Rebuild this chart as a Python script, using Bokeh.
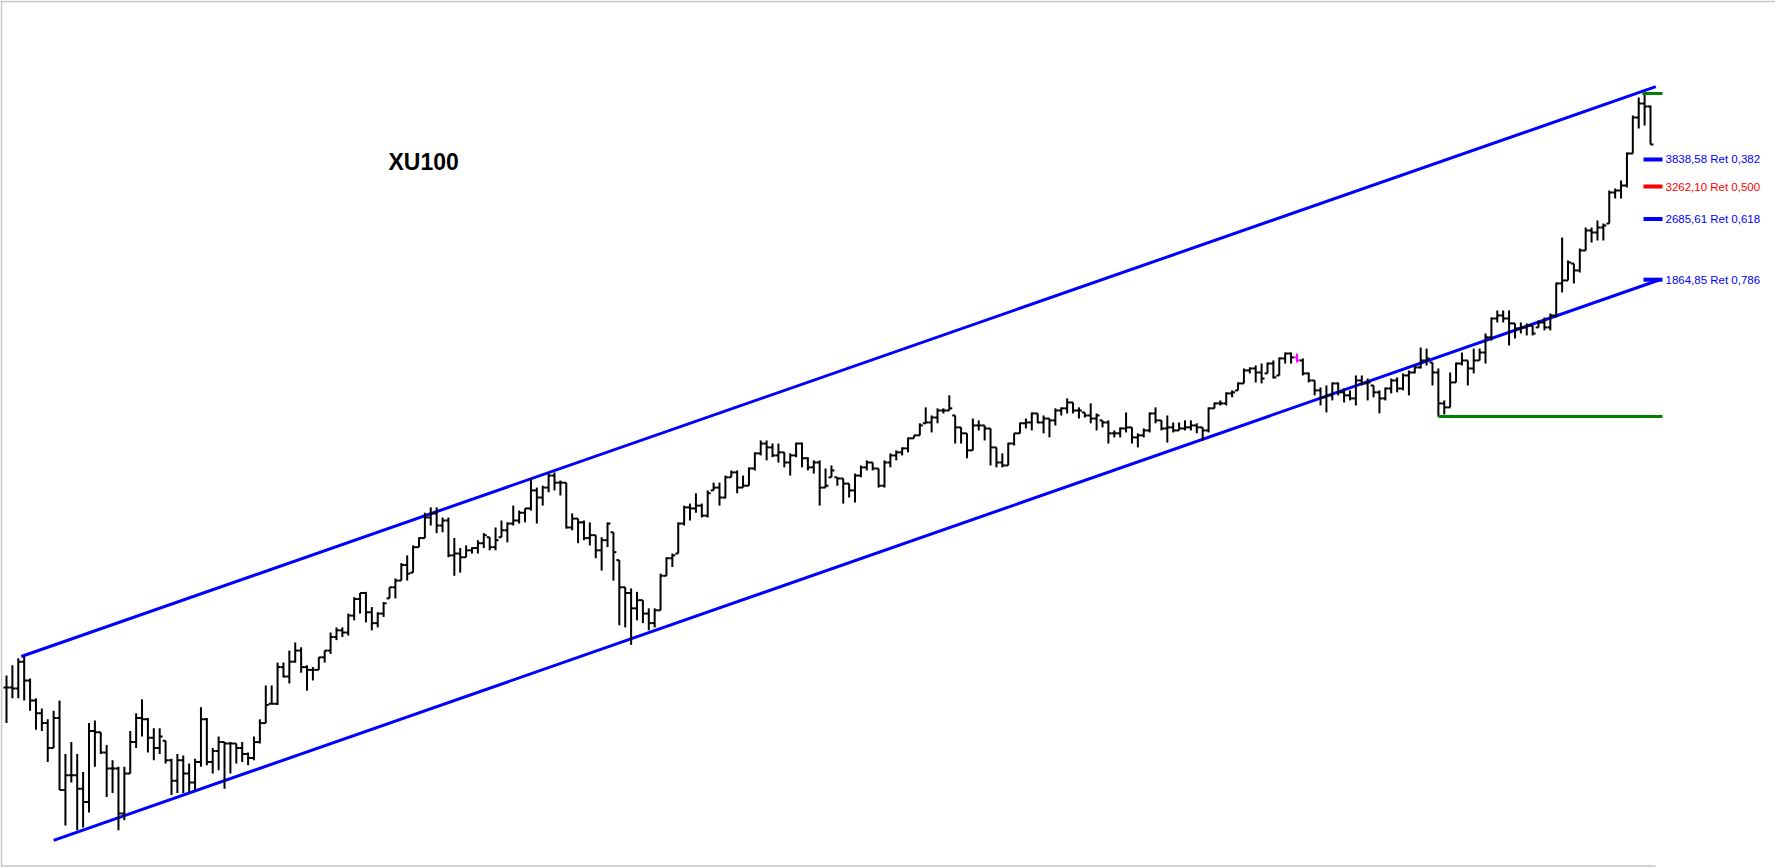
import math
from bokeh.plotting import figure
from bokeh.models import Range1d, ColumnDataSource, Span, Label
from bokeh.embed import file_html
from bokeh.resources import INLINE

# ---------------- data (weekly OHLC, XU100) ----------------
highs = [
    173, 184, 192, 194, 170, 151, 142, 133, 140, 149,
    108, 116, 108, 97, 130, 132, 123, 114, 104, 100,
    100, 124, 138, 150, 134, 126, 126, 117, 105, 108,
    107, 102, 105, 143, 134, 112, 120, 116, 116, 115,
    116, 109, 120, 133, 163, 163, 187, 187, 201, 211,
    205, 184, 182, 193, 201, 224, 231, 231, 251, 277,
    284, 286, 261, 253, 269, 294, 310, 340, 356, 378,
    397, 460, 475, 475, 447, 447, 395, 372, 378, 374,
    390, 407, 397, 421, 439, 434, 480, 466, 472, 565,
    535, 541, 582, 586, 558, 551, 458, 444, 439, 434,
    402, 397,
    434, 409, 346, 294, 292, 286, 272, 259, 259, 319, 352, 360, 434, 480, 486, 517,
    486, 526, 551, 551, 575, 593, 593, 575, 604, 661, 710, 710, 697, 697, 661, 657,
    701, 701, 642, 630, 630, 600, 611, 569, 565, 548, 582, 611, 630, 622, 600, 630,
    657, 669, 681, 723, 732, 787, 866, 825, 861, 861, 931,
    825, 768, 741, 810, 801, 777, 763, 681, 657, 701, 741, 791, 810, 840, 835, 825,
    810, 861, 866, 914, 892, 866, 840, 887, 835, 801, 801, 754, 768, 840, 768, 741,
    763, 840, 866, 801, 825, 791, 791, 801, 801, 787, 768, 866, 892, 903, 948, 959,
    1006, 1094, 1101, 1114, 1127, 1134, 1148, 1169, 1204, 1204, 1197,
    1162, 1068, 1018, 976, 988, 1006, 1006, 970, 959, 1049, 1049, 1030, 988, 959,
    976, 1030, 1037, 1062, 1081, 1114, 1241, 1233, 1134, 1094, 903, 1068, 1134, 1204,
    1148, 1233, 1233, 1350, 1486, 1550, 1550, 1550, 1434,
    1442, 1434, 1416, 1460, 1486, 1522, 1834, 2403, 2093, 2055, 2249, 2552, 2552,
    2661, 2613, 3186, 3224, 3383, 4002, 4998, 5570, 5705, 5308,
]
lows = [
    130, 151, 151, 149, 140, 125, 124, 103, 112, 87,
    70.3, 91, 68.3, 69.5, 76, 100, 108, 83.4, 85.4, 68.3,
    72.5, 96, 112, 120, 109, 104, 108, 102, 84.4, 85.4,
    85.4, 86, 87, 100, 101, 96, 98, 87.7, 96, 102,
    103, 101, 104, 115, 130, 146, 145, 171, 165, 187,
    176, 158, 168, 179, 187, 197, 214, 218, 220, 241,
    251, 238, 227, 231, 246, 275, 275, 306, 306, 321,
    374, 395, 426, 407, 409, 352, 315, 321, 352, 360,
    360, 372, 367, 367, 397, 385, 426, 431, 434, 466,
    431, 480, 520, 526, 510, 418, 414, 383, 390, 378,
    350, 325,
    374, 306, 234, 231, 208, 241, 237, 227, 231, 256, 315, 332, 360, 426, 439, 460,
    447, 447, 526, 480, 501, 569, 517, 535, 541, 593, 649, 630, 642, 622, 604, 575,
    642, 604, 593, 582, 480, 535, 569, 541, 486, 504, 489, 569, 593, 593, 535, 535,
    604, 630, 649, 661, 719, 732, 787, 745, 787, 835, 850,
    697, 697, 638, 669, 754, 710, 611, 604, 604, 611, 689, 741, 763, 754, 787, 741,
    723, 777, 825, 835, 835, 810, 815, 787, 754, 768, 697, 723, 723, 745, 697, 681,
    723, 745, 787, 754, 701, 745, 754, 754, 754, 741, 710, 745, 861, 876, 876, 920,
    959, 1000, 1062, 1006, 1000, 1062, 1030, 1049, 1127, 1127, 1134,
    1049, 1006, 931, 876, 840, 903, 931, 892, 903, 876, 988, 903, 920, 835,
    903, 942, 948, 959, 931, 1062, 1094, 1114, 988, 819, 830, 866, 1006, 1114,
    988, 1062, 1148, 1127, 1294, 1442, 1442, 1256, 1310,
    1350, 1334, 1334, 1400, 1375, 1375, 1486, 1727, 1856, 1823, 1947, 2222, 2332,
    2360, 2360, 2613, 3036, 3036, 3244, 3978, 4623, 4707, 4199,
]
closes = [
    161, 160, 188, 168, 149, 138, 130, 112, 134, 87,
    95, 95, 87.7, 81, 124, 123, 109, 99, 99, 75.6,
    96, 116, 134, 133, 119, 112, 120, 104, 92, 104,
    96, 91, 103, 133, 103, 110, 116, 115, 115, 112,
    108, 105.5, 116, 130, 145, 146, 182, 172, 188, 201,
    182, 179, 179, 193, 201, 218, 227, 224, 248, 274,
    284, 253, 237, 251, 267, 294, 306, 336, 319, 374,
    395, 447, 458, 426, 439, 356, 360, 352, 367, 372,
    383, 402, 374, 390, 414, 431, 439, 460, 472, 526,
    504, 535, 575, 551, 551, 421, 444, 434, 395, 402,
    367, 390,
    431, 363, 294, 284, 259, 272, 251, 237, 256, 315, 350, 356, 431, 475, 472, 480,
    452, 517, 535, 504, 569, 586, 535, 541, 600, 657, 697, 681, 649, 661, 622, 649,
    697, 638, 604, 622, 535, 541, 593, 565, 548, 526, 575, 604, 622, 600, 541, 622,
    649, 661, 677, 719, 732, 777, 791, 815, 850, 850, 861,
    768, 741, 669, 777, 777, 763, 681, 622, 611, 697, 741, 787, 791, 835, 791, 810,
    801, 850, 861, 892, 850, 850, 825, 810, 825, 791, 741, 741, 763, 768, 723, 732,
    754, 835, 801, 763, 768, 754, 763, 768, 777, 768, 754, 861, 887, 887, 942, 948,
    1000, 1081, 1094, 1068, 1030, 1127, 1037, 1162, 1197, 1169, 1148,
    1062, 1018, 959, 920, 931, 1000, 948, 931, 914, 1018, 1000, 1006, 948, 914,
    970, 1018, 970, 1049, 1068, 1101, 1148, 1162, 1068, 887, 866, 1006, 1127, 1148,
    1094, 1148, 1204, 1319, 1477, 1504, 1477, 1434, 1391,
    1400, 1416, 1350, 1442, 1400, 1504, 1823, 1856, 2068, 1971, 2222, 2506, 2476,
    2552, 2581, 3148, 3186, 3282, 3978, 4940, 5372, 5279, 4199,
]
highlight_bar = 219          # bar drawn in magenta

# drawn trend channel (bar index, price)
upper_x = [2.5, 279.9]
upper_y = [194, 5946]
lower_x = [8.0, 280.7]
lower_y = [64.3, 1867]

# swing used for the retracement
swing_high = 5704.8
swing_low = 819.4
swing_low_bar = 243
fib_ratios = [0.382, 0.500, 0.618, 0.786]
fib_prices = [3838.58, 3262.10, 2685.61, 1864.85]
fib_colors = ["#0000ff", "#ff0000", "#0000ff", "#0000ff"]
title = "XU100"

# ---------------- layout ----------------
N = min(len(highs), len(lows), len(closes))
W, H = 1775, 867
X_FIRST, X_LAST = 6.0, 1650.0       # page px of first / last bar
dx = (X_LAST - X_FIRST) / (N - 1)
x_start = -X_FIRST / dx
x_end = x_start + W / dx
PPL = 166.5                          # px per ln unit
y_top = swing_high * math.exp(93 / PPL)
y_bot = swing_high * math.exp(-(H - 93) / PPL)


def xi(px):
    return (px - X_FIRST) / dx


def yp(px):
    return swing_high * math.exp(-(px - 93) / PPL)


p = figure(width=W, height=H, output_backend="svg", toolbar_location=None,
           x_range=Range1d(x_start, x_end), y_range=Range1d(y_bot, y_top),
           y_axis_type="log", x_axis_location=None, y_axis_location=None,
           min_border=0)
p.grid.visible = False
p.outline_line_color = None
p.background_fill_color = "white"
p.border_fill_color = "white"

# frame border (light grey, open on the right)
border = "#c4c4c4"
p.segment(x0=[x_start], y0=[yp(1)], x1=[x_end], y1=[yp(1)], line_color=border, line_width=1.5)
p.segment(x0=[xi(1)], y0=[y_bot], x1=[xi(1)], y1=[y_top], line_color=border, line_width=1.5)
p.segment(x0=[x_start], y0=[yp(865.5)], x1=[xi(1655)], y1=[yp(865.5)],
          line_color=border, line_width=1.5)

# channel
p.line(upper_x, upper_y, line_color="#0000ff", line_width=3)
p.line(lower_x, lower_y, line_color="#0000ff", line_width=3)

# bars
idx = list(range(N))
opens = [closes[0]] + closes[:N - 1]
opens = [min(max(o, l), h) for o, l, h in zip(opens, lows[:N], highs[:N])]
colors = ["black"] * N
if highlight_bar < N:
    colors[highlight_bar] = "#ff00ff"
tick = 0.5
src = ColumnDataSource(dict(
    x=idx, xl=[i - tick for i in idx], xr=[i + tick for i in idx],
    o=opens, h=highs[:N], l=lows[:N], c=closes[:N], color=colors))
p.segment(x0="x", y0="l", x1="x", y1="h", line_color="color", line_width=2, source=src)
p.segment(x0="xl", y0="o", x1="x", y1="o", line_color="color", line_width=2, source=src)
p.segment(x0="x", y0="c", x1="xr", y1="c", line_color="color", line_width=2, source=src)

# swing high / low lines
lvl_x0, lvl_x1 = xi(1643), xi(1662)
p.segment(x0=[lvl_x0 - 0.2], y0=[swing_high], x1=[lvl_x1], y1=[swing_high],
          line_color="#008000", line_width=3)
p.segment(x0=[swing_low_bar], y0=[swing_low], x1=[lvl_x1], y1=[swing_low],
          line_color="#008000", line_width=3)

# retracement levels
p.segment(x0=[lvl_x0] * 4, y0=fib_prices, x1=[lvl_x1] * 4, y1=fib_prices,
          line_color=fib_colors, line_width=4)
for r, pr, col in zip(fib_ratios, fib_prices, fib_colors):
    txt = ("%.2f" % pr).replace(".", ",") + " Ret " + ("%.3f" % r).replace(".", ",")
    p.add_layout(Label(x=lvl_x1, y=pr, x_offset=3, text=txt, text_color=col,
                       text_font="Liberation Sans", text_font_size="11.5px",
                       text_baseline="middle", text_align="left"))

# title
p.add_layout(Label(x=xi(388), y=yp(161), text=title, text_color="black",
                   text_font="Liberation Sans", text_font_size="23px",
                   text_font_style="bold", text_baseline="alphabetic", text_align="left"))

open("out.html", "w").write(file_html(p, INLINE))
